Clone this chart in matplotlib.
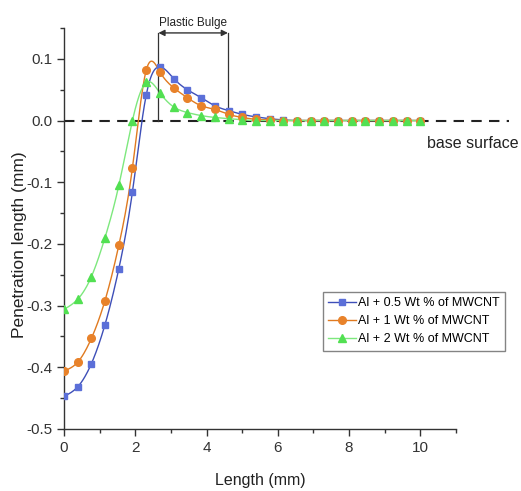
import numpy as np
import matplotlib
matplotlib.use("Agg")
import matplotlib.pyplot as plt
from matplotlib.ticker import MultipleLocator
from matplotlib.lines import Line2D

# ---- data ----
length_mm = [0.0, 0.38, 0.77, 1.15, 1.54, 1.92, 2.31, 2.69, 3.08, 3.46, 3.85, 4.23, 4.62,
             5.0, 5.38, 5.77, 6.15, 6.54, 6.92, 7.31, 7.69, 8.08, 8.46, 8.85, 9.23, 9.62, 10.0]
wt05 = [-0.447, -0.432, -0.394, -0.331, -0.240, -0.116, 0.042, 0.087, 0.068, 0.050, 0.037,
        0.024, 0.016, 0.010, 0.006, 0.003, 0.001, 0.0, 0.0, 0.0, 0.0, 0.0, 0.0, 0.0, 0.0, 0.0, 0.0]
wt1 = [-0.406, -0.392, -0.353, -0.292, -0.202, -0.077, 0.082, 0.079, 0.053, 0.037, 0.024,
       0.018, 0.010, 0.005, 0.002, 0.001, 0.0, 0.0, 0.0, 0.0, 0.0, 0.0, 0.0, 0.0, 0.0, 0.0, 0.0]
wt2 = [-0.306, -0.290, -0.253, -0.190, -0.105, 0.0, 0.062, 0.045, 0.022, 0.013, 0.008,
       0.005, 0.003, 0.001, 0.0, 0.0, 0.0, 0.0, 0.0, 0.0, 0.0, 0.0, 0.0, 0.0, 0.0, 0.0, 0.0]
labels = ["Al + 0.5 Wt % of MWCNT", "Al + 1 Wt % of MWCNT", "Al + 2 Wt % of MWCNT"]
bulge_start, bulge_end = 2.65, 4.6

colors = ["#5b6fd8", "#e8822a", "#52e052"]
line_colors = ["#3e4fb8", "#e07a20", "#7de87d"]
markers = ["s", "o", "^"]
marker_sizes = [5.0, 5.5, 6.0]

def smooth(x, y, n=15):
    x = np.asarray(x, float); y = np.asarray(y, float)
    k = len(x); h = np.diff(x)
    A = np.zeros((k, k)); b = np.zeros(k)
    A[0, 0] = A[-1, -1] = 1
    for i in range(1, k - 1):
        A[i, i - 1] = h[i - 1]; A[i, i] = 2 * (h[i - 1] + h[i]); A[i, i + 1] = h[i]
        b[i] = 6 * ((y[i + 1] - y[i]) / h[i] - (y[i] - y[i - 1]) / h[i - 1])
    M = np.linalg.solve(A, b)
    xs, ys = [], []
    for i in range(k - 1):
        t = np.linspace(x[i], x[i + 1], n, endpoint=False)
        a = x[i + 1] - t; c = t - x[i]
        s = (M[i] * a**3 + M[i + 1] * c**3) / (6 * h[i]) \
            + (y[i] / h[i] - M[i] * h[i] / 6) * a + (y[i + 1] / h[i] - M[i + 1] * h[i] / 6) * c
        xs.append(t); ys.append(s)
    xs.append([x[-1]]); ys.append([y[-1]])
    return np.concatenate(xs), np.concatenate(ys)

plt.rcParams['font.family'] = ['Liberation Sans', 'DejaVu Sans']

fig = plt.figure(figsize=(5.21, 4.91), dpi=100)
ax = fig.add_axes([0.1228, 0.1263, 0.7524, 0.8167])

ax.plot([0, 12.5], [0, 0], ls=(0, (5, 3.5)), color="#222222", lw=1.5, clip_on=False, zorder=1)

handles = []
for ys, c, lc, m, ms, lab in zip([wt05, wt1, wt2], colors, line_colors, markers, marker_sizes, labels):
    sx, sy = smooth(length_mm, ys)
    ax.plot(sx, sy, color=lc, lw=1.0, zorder=2)
    ax.plot(length_mm, ys, ls="none", marker=m, ms=ms, color=c, mec=c, zorder=3)
    handles.append(Line2D([], [], color=lc, lw=1.0, marker=m, ms=ms, mfc=c, mec=c))

# plastic bulge annotation
ytop = 0.142
ax.plot([bulge_start, bulge_start], [0.0, ytop], color="#333333", lw=0.9, clip_on=False)
ax.plot([bulge_end, bulge_end], [0.0, ytop], color="#333333", lw=0.9, clip_on=False)
ax.annotate("", xy=(bulge_start, ytop), xytext=(bulge_end, ytop),
            arrowprops=dict(arrowstyle="<|-|>", color="#333333", lw=1.0,
                            shrinkA=0, shrinkB=0, mutation_scale=9), annotation_clip=False)
ax.text((bulge_start + bulge_end) / 2, ytop + 0.006, "Plastic Bulge", ha="center", va="bottom",
        fontsize=8.5, color="#222222", clip_on=False)

ax.text(10.2, -0.037, "base surface", ha="left", va="center", fontsize=11.5, color="#222222",
        clip_on=False)

ax.set_xlim(0, 11)
ax.set_ylim(-0.5, 0.15)
ax.xaxis.set_minor_locator(MultipleLocator(1))
ax.yaxis.set_minor_locator(MultipleLocator(0.05))
ax.set_yticks([0.1, 0.0, -0.1, -0.2, -0.3, -0.4, -0.5])
ax.set_yticklabels(["0.1", "0.0", "-0.1", "-0.2", "-0.3", "-0.4", "-0.5"])
ax.set_xticks([0, 2, 4, 6, 8, 10])
ax.tick_params(which="major", direction="out", length=5, width=1, labelsize=11, colors="#333333")
ax.tick_params(which="minor", direction="out", length=3, width=1, colors="#333333")
for s in ["top", "right"]:
    ax.spines[s].set_visible(False)
for s in ["left", "bottom"]:
    ax.spines[s].set_color("#333333")
    ax.spines[s].set_linewidth(1.0)

ax.set_xlabel("Length (mm)", fontsize=11.5, color="#222222", labelpad=13)
ax.set_ylabel("Penetration length (mm)", fontsize=12.5, color="#222222")
ax.yaxis.set_label_coords(-0.094, 0.46)

leg = fig.legend(handles, labels, loc="upper left", bbox_to_anchor=(323 / 521, 1 - 292 / 491),
                 frameon=True, fancybox=False, edgecolor="#666666", handlelength=2.2,
                 handletextpad=0.2, borderpad=0.4, labelspacing=0.5, borderaxespad=0,
                 prop={'size': 9})
leg.get_frame().set_linewidth(1.0)

fig.savefig("out.png", dpi=100)
